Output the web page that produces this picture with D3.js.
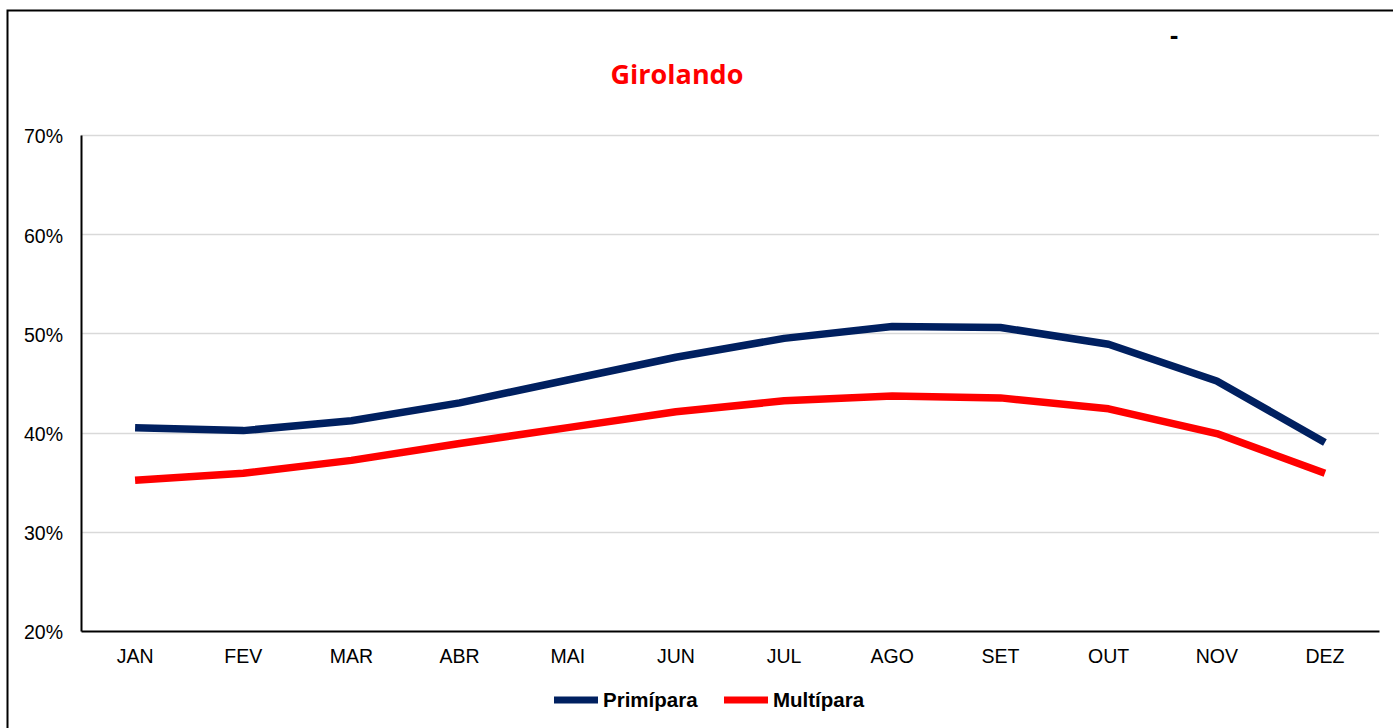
<!DOCTYPE html>
<html>
<head>
<meta charset="utf-8">
<script src="https://cdn.jsdelivr.net/npm/d3@7"></script>
<style>
  body { margin: 0; background: #fff; }
  svg { display: block; }
</style>
</head>
<body>
<svg width="1393" height="728"></svg>
<script>
// month labels and series values (percent)
var months = ['JAN','FEV','MAR','ABR','MAI','JUN','JUL','AGO','SET','OUT','NOV','DEZ'];
var primipara = [40.5, 40.2, 41.2, 43.0, 45.3, 47.6, 49.5, 50.7, 50.6, 48.9, 45.2, 39.0];
var multipara = [35.2, 35.9, 37.2, 38.9, 40.5, 42.1, 43.2, 43.7, 43.5, 42.4, 39.9, 35.9];
var yTicks = [20, 30, 40, 50, 60, 70];
var seriesNames = ['Primípara', 'Multípara'];
var seriesColors = ['#002060', '#ff0000'];

var svg = d3.select('svg');
var margin = {top: 135, right: 14, bottom: 97, left: 81};
var width = 1393 - margin.left - margin.right;
var height = 728 - margin.top - margin.bottom;

// outer frame
svg.append('rect')
    .attr('x', 7.5).attr('y', 10.5)
    .attr('width', 1400).attr('height', 800)
    .attr('fill', 'none')
    .attr('stroke', '#000')
    .attr('stroke-width', 2);

var x = d3.scaleBand().domain(months).range([0, width]);
var y = d3.scaleLinear().domain([20, 70]).range([height, 0]);

var g = svg.append('g')
    .attr('transform', 'translate(' + margin.left + ',' + margin.top + ')');

// gridlines
g.selectAll('.grid')
    .data(yTicks.slice(1))
    .enter().append('line')
    .attr('class', 'grid')
    .attr('x1', 0).attr('x2', width)
    .attr('y1', function(d) { return Math.round(y(d)) + 0.5; })
    .attr('y2', function(d) { return Math.round(y(d)) + 0.5; })
    .attr('stroke', '#d9d9d9')
    .attr('stroke-width', 1.5);

// y axis
var yAxis = g.append('g')
    .call(d3.axisLeft(y).tickValues(yTicks).tickSize(0).tickPadding(18)
        .tickFormat(function(d) { return d + '%'; }));
yAxis.select('.domain').attr('stroke', '#000').attr('stroke-width', 2);
yAxis.selectAll('text')
    .attr('dy', '0.4em')
    .attr('font-family', 'Liberation Sans, Arial, sans-serif')
    .attr('font-size', 19.5)
    .attr('fill', '#000');

// x axis
var xAxis = g.append('g')
    .attr('transform', 'translate(0,' + height + ')')
    .call(d3.axisBottom(x).tickSize(0).tickPadding(18));
xAxis.select('.domain').attr('stroke', '#000').attr('stroke-width', 2);
xAxis.selectAll('text')
    .attr('font-family', 'Liberation Sans, Arial, sans-serif')
    .attr('font-size', 19.5)
    .attr('fill', '#000');

// lines
var line = d3.line()
    .x(function(d, i) { return x(months[i]) + x.bandwidth() / 2; })
    .y(function(d) { return y(d); });

[primipara, multipara].forEach(function(series, k) {
  g.append('path')
      .datum(series)
      .attr('fill', 'none')
      .attr('stroke', seriesColors[k])
      .attr('stroke-width', 7.5)
      .attr('stroke-linejoin', 'round')
      .attr('d', line);
});

// title
svg.append('text')
    .attr('x', 677)
    .attr('y', 84)
    .attr('text-anchor', 'middle')
    .attr('font-family', 'Open Sans, sans-serif')
    .attr('font-weight', 'bold')
    .attr('font-size', 27)
    .attr('fill', '#ff0000')
    .text('Girolando');

svg.append('text')
    .attr('x', 1174)
    .attr('y', 44)
    .attr('text-anchor', 'middle')
    .attr('font-family', 'Liberation Sans, Arial, sans-serif')
    .attr('font-weight', 'bold')
    .attr('font-size', 26)
    .attr('fill', '#000')
    .text('-');

// legend
var legendX = [554, 724];
var legend = svg.selectAll('.legend')
    .data(seriesNames)
    .enter().append('g')
    .attr('class', 'legend')
    .attr('transform', function(d, i) { return 'translate(' + legendX[i] + ',700)'; });
legend.append('line')
    .attr('x1', 0).attr('x2', 44)
    .attr('stroke', function(d, i) { return seriesColors[i]; })
    .attr('stroke-width', 7);
legend.append('text')
    .attr('x', 49)
    .attr('y', 7)
    .attr('font-family', 'Liberation Sans, Arial, sans-serif')
    .attr('font-weight', 'bold')
    .attr('font-size', 20.5)
    .attr('fill', '#000')
    .text(function(d) { return d; });
</script>
</body>
</html>
